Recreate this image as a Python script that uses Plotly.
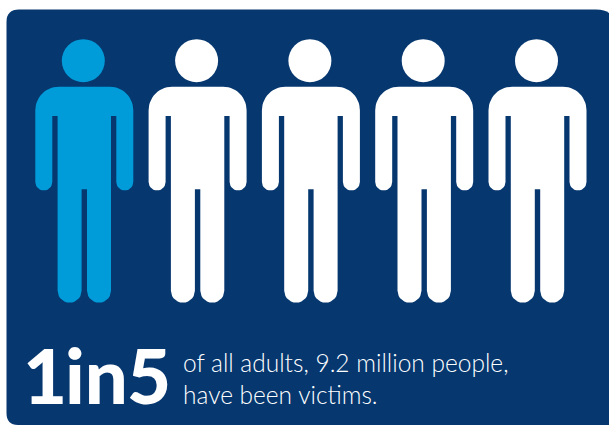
import math
import plotly.graph_objects as go

# One figure per five adults; the first stands for the victims.
people = [1, 2, 3, 4, 5]
is_victim = [True, False, False, False, False]
headline_parts = ["1", "in", "5"]
caption_lines = ["of all adults, 9.2 million people,", "have been victims."]

NAVY = "#06376F"
BLUE = "#009CDA"
WHITE = "#FFFFFF"

FIRST_CENTRE = 84.3
SPACING = 113.3


def arc(cx, cy, r, start, end, n=14):
    pts = []
    for i in range(n + 1):
        a = math.radians(start + (end - start) * i / n)
        pts.append((cx + r * math.cos(a), cy + r * math.sin(a)))
    return pts


def body_outline(c):
    """Outline of a standing figure around centre line c, y pointing down."""
    top, arm_end, leg_end, pit, crotch = 86.7, 190.5, 302.8, 116.0, 189.3
    half_w, arm_in, torso, gap, sr = 49.0, 32.0, 26.7, 2.7, 23.5
    arm_r = (half_w - arm_in) / 2
    leg_r = (torso - gap) / 2
    pts = []
    pts += arc(c - half_w + sr, top + sr, sr, 180, 270)
    pts += arc(c + half_w - sr, top + sr, sr, 270, 360)
    pts += arc(c + (half_w + arm_in) / 2, arm_end - arm_r, arm_r, 0, 180)
    pts += [(c + arm_in, pit), (c + torso, pit)]
    pts += arc(c + (torso + gap) / 2, leg_end - leg_r, leg_r, 0, 180)
    pts += [(c + gap, crotch), (c - gap, crotch)]
    pts += arc(c - (torso + gap) / 2, leg_end - leg_r, leg_r, 0, 180)
    pts += [(c - torso, pit), (c - arm_in, pit)]
    pts += arc(c - (half_w + arm_in) / 2, arm_end - arm_r, arm_r, 0, 180)
    pts.append(pts[0])
    return pts


fig = go.Figure()

for person, victim in zip(people, is_victim):
    centre = FIRST_CENTRE + (person - 1) * SPACING
    colour = BLUE if victim else WHITE
    outline = body_outline(centre)
    fig.add_trace(go.Scatter(
        x=[p[0] for p in outline], y=[p[1] for p in outline],
        mode="lines", fill="toself", fillcolor=colour,
        line=dict(width=0, color=colour), hoverinfo="skip", showlegend=False,
    ))
    fig.add_trace(go.Scatter(
        x=[centre - 1.0], y=[60.7], mode="markers",
        marker=dict(symbol="circle", size=43, color=colour, line=dict(width=0)),
        hoverinfo="skip", showlegend=False,
    ))

# Panel with rounded corners, bleeding off the right edge.
panel = ("M 6.5 22 Q 6.5 9.5 19 9.5 L 596 9.5 Q 605 9.5 609 13 L 609 425 L 18 425 "
         "Q 6.5 425 6.5 413 Z")
fig.add_shape(type="path", path=panel, fillcolor=NAVY, line_width=0, layer="below")

# The headline is set piece by piece for its tight letterfit.
for part, left in zip(headline_parts, [21, 63, 125]):
    fig.add_annotation(
        x=left, y=405, text=part, showarrow=False,
        xanchor="left", yanchor="bottom", yshift=-17,
        font=dict(family="Lato", size=76, color=WHITE, weight=900),
    )
for line, baseline in zip(caption_lines, [372, 404]):
    fig.add_annotation(
        x=180.5, y=baseline, text=line, showarrow=False,
        xanchor="left", yanchor="bottom", yshift=-7,
        font=dict(family="Lato", size=24.5, color=WHITE, weight=300),
    )

fig.update_xaxes(range=[0, 609], visible=False, fixedrange=True)
fig.update_yaxes(range=[425, 0], visible=False, fixedrange=True)
fig.update_layout(
    width=609, height=425, margin=dict(l=0, r=0, t=0, b=0),
    paper_bgcolor=WHITE, plot_bgcolor=WHITE,
)

fig.write_html("out.html", config={"displayModeBar": False})
